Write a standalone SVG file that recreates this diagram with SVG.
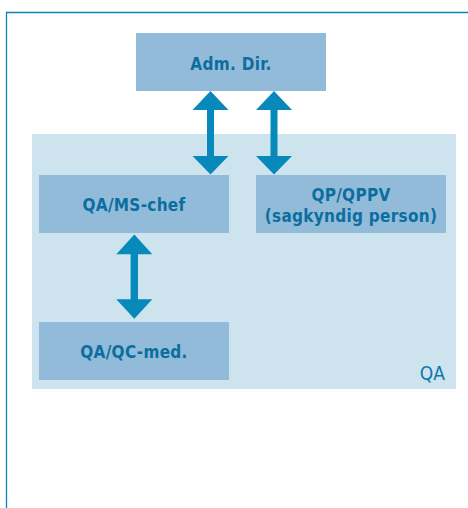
<svg xmlns="http://www.w3.org/2000/svg" width="468" height="508" viewBox="0 0 468 508">
<style>
.frame{fill:none;stroke:#0a84b7;stroke-width:1.3}
.area{fill:#cde3ee}
.box{fill:#92bbda}
.lbl{font-family:"DejaVu Sans Condensed","DejaVu Sans",sans-serif;font-weight:bold;font-size:17px;fill:#0b6e9f;text-anchor:middle;letter-spacing:0.3px}
.qa{font-family:"DejaVu Sans Condensed","DejaVu Sans",sans-serif;font-size:19px;fill:#0b78a8;text-anchor:end}
.arr{fill:#0889bb}
</style>
<rect width="468" height="508" fill="#ffffff"/>
<path class="frame" d="M6.5,520 V12.5 H480"/>
<g id="qa-area">
<rect class="area" x="32" y="134" width="424" height="255"/>
<text class="qa" x="445" y="380">QA</text>
</g>
<g id="adm-dir">
<rect class="box" x="136" y="33" width="190" height="58"/>
<text class="lbl" x="231" y="70">Adm. Dir.</text>
</g>
<g id="qa-ms-chef">
<rect class="box" x="39" y="175" width="190" height="58"/>
<text class="lbl" x="134" y="211">QA/MS-chef</text>
</g>
<g id="qp-qppv">
<rect class="box" x="256" y="175" width="190" height="58"/>
<text class="lbl" x="351" y="201">QP/QPPV</text>
<text class="lbl" x="351" y="222">(sagkyndig person)</text>
</g>
<g id="qa-qc-med">
<rect class="box" x="39" y="322" width="190" height="58"/>
<text class="lbl" x="134" y="358">QA/QC-med.</text>
</g>
<g id="connectors">
<path class="arr" d="M210.5,91 L228.5,110 H214 V156 H228.5 L210.5,174.5 L192.5,156 H207 V110 H192.5 Z"/>
<path class="arr" d="M274,91 L292,110 H277.5 V156 H292 L274,174.5 L256,156 H270.5 V110 H256 Z"/>
<path class="arr" d="M134.3,234.5 L152.3,254.3 H138 V299.3 H152.3 L134.3,318.7 L116.3,299.3 H130.6 V254.3 H116.3 Z"/>
</g>
</svg>
